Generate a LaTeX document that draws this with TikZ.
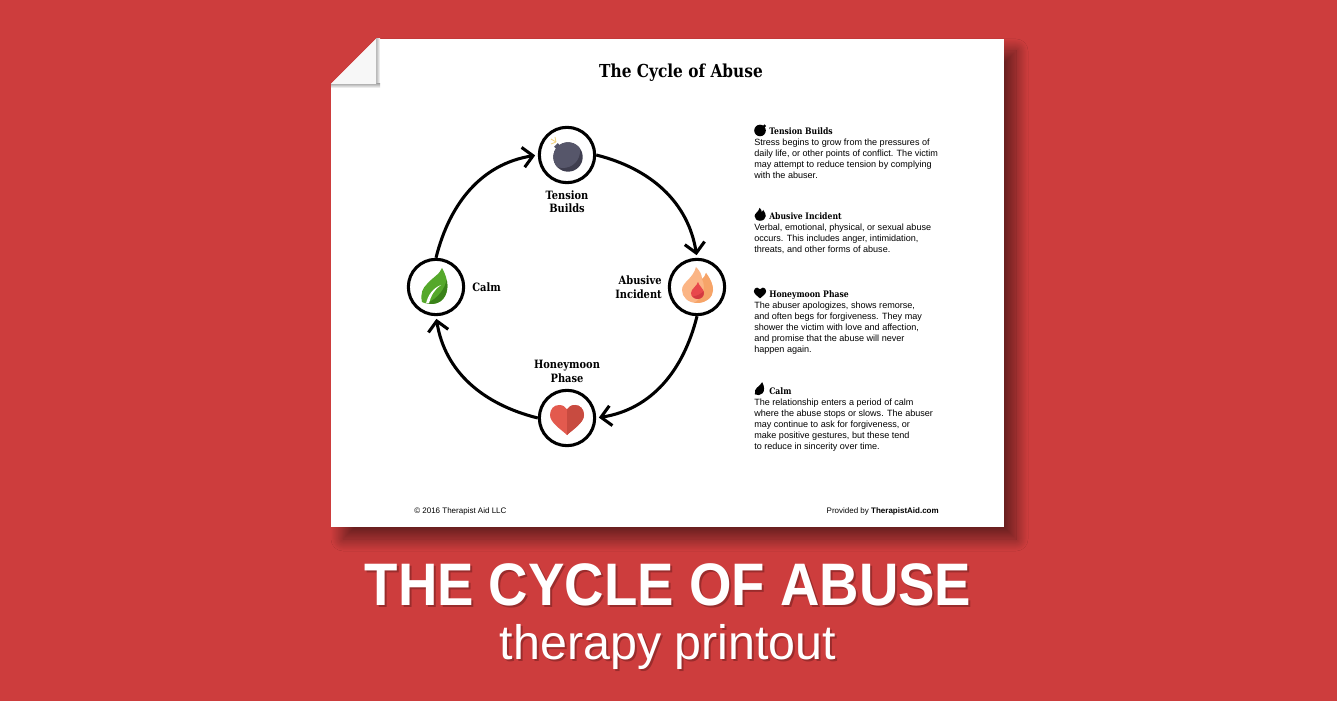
\documentclass[tikz,border=0pt]{standalone}
\usepackage{fontspec}
\setmainfont{Liberation Sans}
\newfontfamily\slabfont[FakeStretch=0.86]{DejaVu Serif}
\newfontfamily\bannerfont[FakeStretch=0.91]{Liberation Sans}
\usetikzlibrary{arrows.meta,calc,shadows.blur}
\definecolor{bgred}{HTML}{CD3D3D}
\definecolor{bgdark}{HTML}{9A2C2C}
\newcommand{\bannertext}[1]{\rlap{\kern1.5pt\raisebox{-1.5pt}{\textcolor{bgdark}{#1}}}#1}
\newcommand{\heartpath}{(0,-15) .. controls (-5,-10) and (-17,-3) .. (-17,5) .. controls (-17,11) and (-13,15) .. (-8,15) .. controls (-4.5,15) and (-1.5,13.5) .. (0,10.5) .. controls (1.5,13.5) and (4.5,15) .. (8,15) .. controls (13,15) and (17,11) .. (17,5) .. controls (17,-3) and (5,-10) .. (0,-15) -- cycle}
\newcommand{\flamepath}{(0,-16) .. controls (-9,-16) and (-15,-10) .. (-15,-3) .. controls (-15,5) and (-4,8) .. (-1,20) .. controls (3,16) and (5,12) .. (5,8) .. controls (7,9) and (8,11) .. (9,14) .. controls (14,7) and (16,2) .. (16,-3) .. controls (16,-10) and (9,-16) .. (0,-16) -- cycle}
\newcommand{\leafpath}{(6,19) .. controls (4,13) and (-4,9) .. (-9,3) .. controls (-13,-1) and (-16,-6) .. (-14,-15) .. controls (-8,-18) and (2,-18) .. (7,-12) .. controls (13,-5) and (13,7) .. (6,19) -- cycle}
\tikzset{
	hearticon/.pic={
			\fill[fill=heartlight] \heartpath;
			\begin{scope}
				\clip (0,-16) rectangle (18,16);
				\fill[fill=heartdark] \heartpath;
			\end{scope}
		},
	flameicon/.pic={
			\fill[fill=flamelight] \flamepath;
			\begin{scope}
				\clip \flamepath;
				\fill[fill=flamedark] (5,8) .. controls (9,0) and (7,-10) .. (-4,-17) -- (17,-17) -- (17,20) -- (5,20) -- cycle;
			\end{scope}
			\fill[fill=dropred] (1,5) .. controls (2,1) and (7,-2) .. (7,-6) .. controls (7,-10) and (4,-12) .. (1,-12) .. controls (-3,-12) and (-6,-10) .. (-6,-6) .. controls (-6,-2) and (0,1) .. (1,5) -- cycle;
			\fill[fill=dropdark] (-4,-9.5) .. controls (0,-9) and (4,-7) .. (6.7,-4) .. controls (7.5,-9) and (4,-12) .. (1,-12) .. controls (-1,-12) and (-3,-11) .. (-4,-9.5) -- cycle;
		},
	leaficon/.pic={
			\fill[fill=leaflight] \leafpath;
			\begin{scope}
				\clip \leafpath;
				\fill[fill=leafdark] (11,8) .. controls (9,-1) and (3,-11) .. (-9,-16) -- (-9,-20) -- (20,-20) -- (20,8) -- cycle;
			\end{scope}
			\fill[white] (-10,-16.5) .. controls (-8,-8) and (-3,-1) .. (5,2) .. controls (-1,-2) and (-5,-8) .. (-7,-16.5) -- cycle;
		},
	bombicon/.pic={
			\fill[fill=bombmid, rotate=45] (-2.5,13) rectangle (2.5,17);
			\fill[fill=bombdark] (0,0) circle (14.7);
			\begin{scope}
				\clip (0,0) circle (14.7);
				\fill[fill=bombmid] (-5,6) circle (17);
			\end{scope}
			\draw[spark] (-17,13) -- (-12,15) (-17,18) -- (-12,15) (-13,20) -- (-12,15);
		}
}
\begin{document}
\begin{tikzpicture}[x=0.75pt,y=0.75pt,
page/.style = {fill=white, rectangle, inner sep=0pt, minimum width=504.75pt, minimum height=366pt, blur shadow={shadow xshift=9pt, shadow yshift=-9pt, shadow blur radius=9pt, shadow blur steps=30, shadow opacity=50}},
ring/.style = {draw, fill=white, circle, inner sep=0pt, line width=2.3pt, minimum size=41.5pt},
cyc/.style = {line width=2.3pt, -{Straight Barb[length=7.5pt,width=15pt,line width=2.3pt]}, shorten >=2pt},
label/.style = {font=\slabfont\bfseries\fontsize{8.6}{10.2}\selectfont, align=center, inner sep=0pt},
head/.style = {font=\slabfont\bfseries\fontsize{6.7}{8}\selectfont, anchor=west, inner sep=0pt},
body/.style = {font=\fontsize{6.8}{8.25}\selectfont, align=left, anchor=north west, inner sep=0pt},
foot/.style = {font=\fontsize{6}{7}\selectfont, inner sep=0pt},
legendicon/.style = {fill=black},
spark/.style = {draw=sparkyellow, line width=0.6pt},
node distance = 35pt
]
\useasboundingbox (0,0) rectangle (1337,700);
\fill[bgred] (-3,-3) rectangle (1340,703);

\definecolor{heartlight}{HTML}{E35A4E}
\definecolor{heartdark}{HTML}{C84B40}
\definecolor{flamelight}{HTML}{FBB585}
\definecolor{flamedark}{HTML}{F6A468}
\definecolor{dropred}{HTML}{E8484C}
\definecolor{dropdark}{HTML}{D23B40}
\definecolor{leaflight}{HTML}{55A82A}
\definecolor{leafdark}{HTML}{3A8219}
\definecolor{bombmid}{HTML}{56566A}
\definecolor{bombdark}{HTML}{3F3E4F}
\definecolor{sparkyellow}{HTML}{F2D27A}

% sheet
\node [page] (sheet) at (667.5,417) {};
\fill[bgred] (329,663) -- (378,663) -- (329,614) -- cycle;
\shade[left color=black!30, right color=white] (376,616) rectangle (380,661);
\shade[top color=black!30, bottom color=white] (331,616) rectangle (380,612);
\fill[fill=white!97!black] (376,661) -- (376,616) -- (331,616) -- cycle;

\node [font=\slabfont\bfseries\fontsize{13.4}{15}\selectfont, inner sep=0pt] (title) at (681,627) {The Cycle of Abuse};

% cycle
\node [ring] (tension) at (567,545) {};
\node [ring] (abusive) at (697,413) {};
\node [ring] (honeymoon) at (567,282) {};
\node [ring] (calm) at (436,413) {};

\draw [cyc] (tension.east) to [out=-14,in=99] (abusive.north);
\draw [cyc] (abusive.south) to [out=-104,in=9] (honeymoon.east);
\draw [cyc] (honeymoon.west) to [out=166,in=-81] (calm.south);
\draw [cyc] (calm.north) to [out=76,in=189] (tension.west);

\pic at (568,543) {bombicon};
\pic at (697,413) {flameicon};
\pic at (567,280) {hearticon};
\pic at (436,413) {leaficon};

\node [label, below of=tension] (tensionlabel) {Tension\\Builds};
\node [label, above of=honeymoon] (honeymoonlabel) {Honeymoon\\Phase};
\node [label, anchor=east, align=right] (abusivelabel) at (662,413) {Abusive\\Incident};
\node [label, anchor=west] (calmlabel) at (472,413) {Calm};

% legend
\fill[legendicon] (760,569.5) circle (5.8);
\fill[legendicon, rotate around={-45:(760,569.5)}] (758.8,574.5) rectangle (761.2,577);
\fill[legendicon, shift={(760,485)}, scale=0.36] \flamepath;
\fill[legendicon, shift={(760,407)}, scale=0.36] \heartpath;
\fill[legendicon, shift={(760,311)}, scale=0.36] \leafpath;

\node [head] (tensionhead) at (769,569) {Tension Builds};
\node [body] (tensionbody) at (754,561.5) {Stress begins to grow from the pressures of\\daily life, or other points of conflict. The victim\\may attempt to reduce tension by complying\\with the abuser.};

\node [head] (abusivehead) at (769,483.5) {Abusive Incident};
\node [body] (abusivebody) at (754,476.5) {Verbal, emotional, physical, or sexual abuse\\occurs. This includes anger, intimidation,\\threats, and other forms of abuse.};

\node [head] (honeymoonhead) at (769,405) {Honeymoon Phase};
\node [body] (honeymoonbody) at (754,398) {The abuser apologizes, shows remorse,\\and often begs for forgiveness. They may\\shower the victim with love and affection,\\and promise that the abuse will never\\happen again.};

\node [head] (calmhead) at (769,308.5) {Calm};
\node [body] (calmbody) at (754,301.5) {The relationship enters a period of calm\\where the abuse stops or slows. The abuser\\may continue to ask for forgiveness, or\\make positive gestures, but these tend\\to reduce in sincerity over time.};

\node [foot, anchor=west] (copyright) at (414,189) {© 2016 Therapist Aid LLC};
\node [foot, anchor=east] (provided) at (939,189) {Provided by \textbf{TherapistAid.com}};

% banner
\node [font=\bannerfont\bfseries\fontsize{45}{50}\selectfont, text=white, inner sep=0pt] (bannertitle) at (668,114) {\bannertext{THE CYCLE OF ABUSE}};
\node [font=\fontsize{36.3}{40}\selectfont, text=white, inner sep=0pt] (bannersub) at (668,52) {\bannertext{therapy printout}};

\end{tikzpicture}
\end{document}
